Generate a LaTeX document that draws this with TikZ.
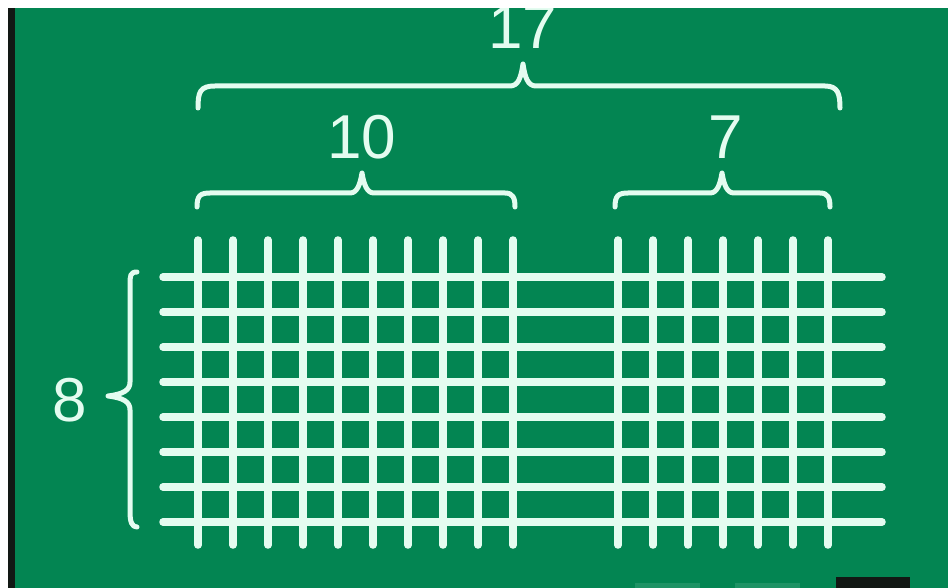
\documentclass[tikz,border=0pt]{standalone}
\usepackage{fontspec}
\setmainfont{Liberation Sans}
\definecolor{board}{RGB}{3,133,82}
\definecolor{chalk}{RGB}{228,252,240}
\definecolor{edgeblack}{RGB}{18,24,20}
\begin{document}
\begin{tikzpicture}[x=1pt,y=-1pt,
  gridline/.style={draw=chalk, line width=7.5pt, line cap=round},
  bracepath/.style={draw=chalk, line width=5pt, line cap=round, line join=round},
  numlabel/.style={text=chalk, font=\fontsize{62}{64}\selectfont, inner sep=0pt}]
\useasboundingbox (0,0) rectangle (948,588);
\fill[white] (0,0) rectangle (948,588);
\fill[board] (15,8) rectangle (948,588);
\fill[edgeblack] (8,8) rectangle (15,588);
% bottom marks
\fill[board!88!chalk] (635,583) rectangle (700,588);
\fill[board!88!chalk] (735,583) rectangle (800,588);
\fill[edgeblack] (836,577) rectangle (910,588);
% grid: vertical lines
\foreach \i in {0,...,9}
  \draw[gridline] ({198+35*\i},240) -- ({198+35*\i},545);
\foreach \i in {0,...,6}
  \draw[gridline] ({618+35*\i},240) -- ({618+35*\i},545);
% grid: horizontal lines
\foreach \j in {0,...,7}
  \draw[gridline] (163,{277+35*\j}) -- (882,{277+35*\j});
% braces
\draw[bracepath] (198,108) .. controls (198,92) and (200,86) .. (215,86) -- (510,86)
  .. controls (518,86) and (521,78) .. (523,64)
  .. controls (525,78) and (528,86) .. (536,86) -- (825,86)
  .. controls (838,86) and (840,94) .. (840,108);
\draw[bracepath] (197,207) .. controls (197,196) and (200,193) .. (210,193) -- (350,193)
  .. controls (357,193) and (360,185) .. (362,173)
  .. controls (364,185) and (367,193) .. (374,193) -- (505,193)
  .. controls (513,193) and (515,198) .. (515,207);
\draw[bracepath] (615,207) .. controls (615,196) and (618,193) .. (628,193) -- (710,193)
  .. controls (717,193) and (720,185) .. (722,173)
  .. controls (724,185) and (727,193) .. (734,193) -- (820,193)
  .. controls (828,193) and (830,198) .. (830,207);
\draw[bracepath] (137,272) .. controls (130,272) and (130,276) .. (130,285) -- (130,382)
  .. controls (130,390) and (124,394) .. (108,396)
  .. controls (124,398) and (130,402) .. (130,410) -- (130,512)
  .. controls (130,522) and (132,527) .. (137,527);
% labels
\node[numlabel] (n17) at (523,27) {17};
\node[numlabel] (n10) at (362,137) {10};
\node[numlabel] (n7) at (726,137) {7};
\node[numlabel] (n8) at (70,400) {8};
% white top strip over the clipped label
\fill[white] (0,0) rectangle (948,8);
\fill[white] (0,0) rectangle (8,588);
\end{tikzpicture}
\end{document}
